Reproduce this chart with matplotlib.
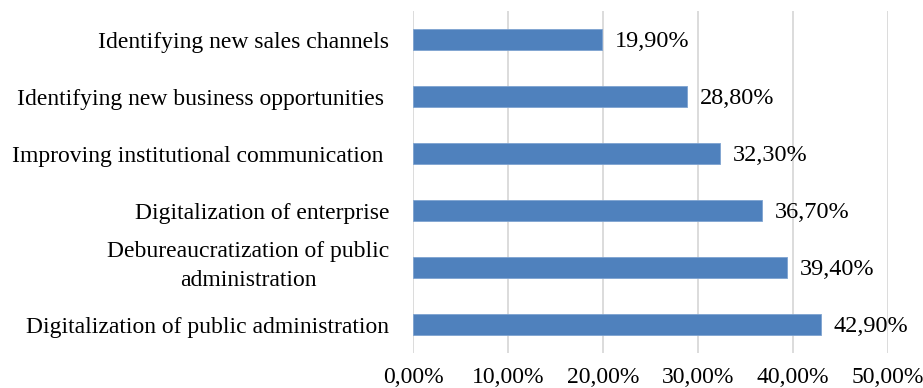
import matplotlib
matplotlib.use("Agg")
import matplotlib.pyplot as plt
from matplotlib.transforms import ScaledTranslation

categories = [
    "Identifying new sales channels",
    "Identifying new business opportunities ",
    "Improving institutional communication ",
    "Digitalization of enterprise",
    "Debureaucratization of public\nadministration",
    "Digitalization of public administration",
]
values = [19.9, 28.8, 32.3, 36.7, 39.4, 42.9]
xticks = [0, 10, 20, 30, 40, 50]

plt.rcParams['font.family'] = ['Liberation Serif', 'DejaVu Serif']

fig = plt.figure(figsize=(9.23, 3.88), dpi=100)
ax = fig.add_axes([0.4475, 0.0902, 0.5147, 0.8814])

ypos = list(range(len(categories)))
ax.barh(ypos, values, height=0.36, color='#4F81BD', edgecolor='#7EA3D0', linewidth=0.6, zorder=3)
for y, v in zip(ypos, values):
    ax.text(v + 1.35, y + 0.04, f"{v:.2f}%".replace('.', ','), va='center', ha='left', fontsize=17.5, color='black')

ax.set_ylim(len(categories) - 0.5, -0.5)
ax.set_xlim(0, 50)
ax.set_yticks(ypos)
ax.set_yticklabels(categories, fontsize=17, multialignment='center', linespacing=1.5)
ax.set_xticks(xticks)
ax.set_xticklabels([f"{t:.2f}%".replace('.', ',') for t in xticks], fontsize=17)
ax.tick_params(axis='y', length=0, pad=17)
ax.tick_params(axis='x', length=0, pad=10)
for s in ax.spines.values():
    s.set_visible(False)
ax.grid(axis='x', color='#D9D9D9', linewidth=1.3, zorder=0)
ax.set_axisbelow(True)

for lab in ax.get_yticklabels():
    if "\n" in lab.get_text():
        lab.set_transform(lab.get_transform() + ScaledTranslation(0, 8 / 100, fig.dpi_scale_trans))

fig.savefig("out.png", dpi=100)
